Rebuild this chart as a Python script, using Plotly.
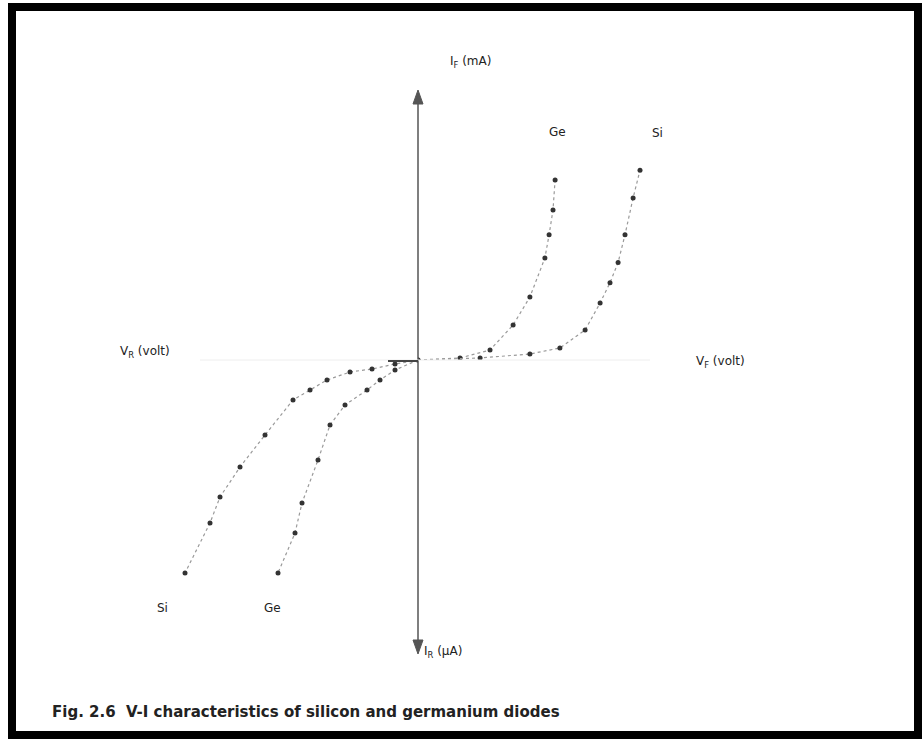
import plotly.graph_objects as go

W, H = 924, 740

# Forward bias (V in volt, I in mA)
ge_fwd_v = [0.0, 0.14, 0.24, 0.317, 0.373, 0.423, 0.437, 0.45, 0.457]
ge_fwd_i = [0.0, 0.27, 1.33, 4.67, 8.4, 13.6, 16.7, 20.0, 24.0]
si_fwd_v = [0.0, 0.207, 0.373, 0.473, 0.557, 0.607, 0.64, 0.667, 0.69, 0.717, 0.74]
si_fwd_i = [0.0, 0.27, 0.8, 1.6, 4.0, 7.6, 10.3, 13.0, 16.7, 21.6, 25.3]

# Reverse bias (V in volt, I in uA)
si_rev_v = [0, -5.75, -11.5, -17, -22.75, -27, -31.25, -38.25, -44.5, -49.5, -52, -58.25]
si_rev_i = [0, -0.8, -1.8, -2.4, -4, -6, -8, -15, -21.4, -27.4, -32.6, -42.6]
ge_rev_v = [0, -5.75, -9.5, -12.75, -18.25, -22, -25, -29, -30.75, -35]
ge_rev_i = [0, -2, -4, -6, -9, -13, -20, -28.6, -34.6, -42.6]

OX, OY = 418, 360  # origin in pixels
px = lambda x: x / W
py = lambda y: (H - y) / H

fig = go.Figure()

line_style = dict(color="#9a9a9a", width=1.2, dash="dot")
marker_style = dict(color="#333333", size=5)

for v, i in [(ge_fwd_v, ge_fwd_i), (si_fwd_v, si_fwd_i)]:
    fig.add_trace(go.Scatter(x=v, y=i, mode="lines+markers", line=line_style,
                             marker=marker_style, xaxis="x", yaxis="y",
                             showlegend=False, hoverinfo="skip"))
for v, i in [(si_rev_v, si_rev_i), (ge_rev_v, ge_rev_i)]:
    fig.add_trace(go.Scatter(x=v, y=i, mode="lines+markers", line=line_style,
                             marker=marker_style, xaxis="x2", yaxis="y2",
                             showlegend=False, hoverinfo="skip"))

kf, mf = 300.0, 7.5   # px per volt, px per mA (forward)
kr, mr = 4.0, 5.0     # px per volt, px per uA (reverse)

bare = dict(showgrid=False, zeroline=False, showline=False,
            showticklabels=False, ticks="")
fig.update_layout(
    width=W, height=H, margin=dict(l=0, r=0, t=0, b=0),
    paper_bgcolor="white", plot_bgcolor="rgba(0,0,0,0)",
    xaxis=dict(domain=[px(OX), 1], range=[0, (W - OX) / kf], **bare),
    yaxis=dict(domain=[py(OY), 1], range=[0, OY / mf], **bare),
    xaxis2=dict(domain=[0, px(OX)], range=[-OX / kr, 0], anchor="y2", **bare),
    yaxis2=dict(domain=[0, py(OY)], range=[-(H - OY) / mr, 0], anchor="x2", **bare),
)


def tri(xc, ytip, ybase, half=5):
    """Arrow head path in pixel space converted to paper coordinates."""
    return (f"M {px(xc)},{py(ytip)} L {px(xc - half)},{py(ybase)} "
            f"L {px(xc + half)},{py(ybase)} Z")


axis_col = "#555555"
shapes = [
    # outer frame
    dict(type="rect", xref="paper", yref="paper", x0=px(12), x1=px(918),
         y0=py(735), y1=py(7), line=dict(color="black", width=8)),
    # vertical axis
    dict(type="line", xref="paper", yref="paper", x0=px(OX), x1=px(OX),
         y0=py(100), y1=py(644), line=dict(color=axis_col, width=1.5)),
    dict(type="path", xref="paper", yref="paper", path=tri(OX, 90, 104),
         fillcolor=axis_col, line=dict(color=axis_col, width=1)),
    dict(type="path", xref="paper", yref="paper", path=tri(OX, 654, 640),
         fillcolor=axis_col, line=dict(color=axis_col, width=1)),
    # horizontal axis (faint)
    dict(type="line", xref="paper", yref="paper", x0=px(200), x1=px(650),
         y0=py(OY), y1=py(OY), line=dict(color="#eeeeee", width=1)),
    dict(type="line", xref="paper", yref="paper", x0=px(388), x1=px(OX),
         y0=py(OY + 1), y1=py(OY + 1), line=dict(color="#444444", width=2)),
]
fig.update_layout(shapes=shapes)

font = dict(family="DejaVu Sans, Arial", size=12, color="#222222")
ann = []
labels = [
    ("I<sub>F</sub> (mA)", 470, 62),
    ("V<sub>R</sub> (volt)", 145, 352),
    ("V<sub>F</sub> (volt)", 720, 362),
    ("I<sub>R</sub> (μA)", 443, 652),
    ("Ge", 557, 132),
    ("Si", 657, 133),
    ("Si", 162, 608),
    ("Ge", 272, 608),
]
for t, x, y in labels:
    ann.append(dict(xref="paper", yref="paper", x=px(x), y=py(y), text=t,
                    showarrow=False, font=font, xanchor="center", yanchor="middle"))

ann.append(dict(xref="paper", yref="paper", x=px(50), y=py(712),
                text="<b>Fig. 2.6  V-I characteristics of silicon and germanium diodes</b>",
                showarrow=False, xanchor="left", yanchor="middle",
                font=dict(family="DejaVu Sans, Arial", size=15, color="#222222")))
fig.update_layout(annotations=ann)

fig.write_html("out.html")
